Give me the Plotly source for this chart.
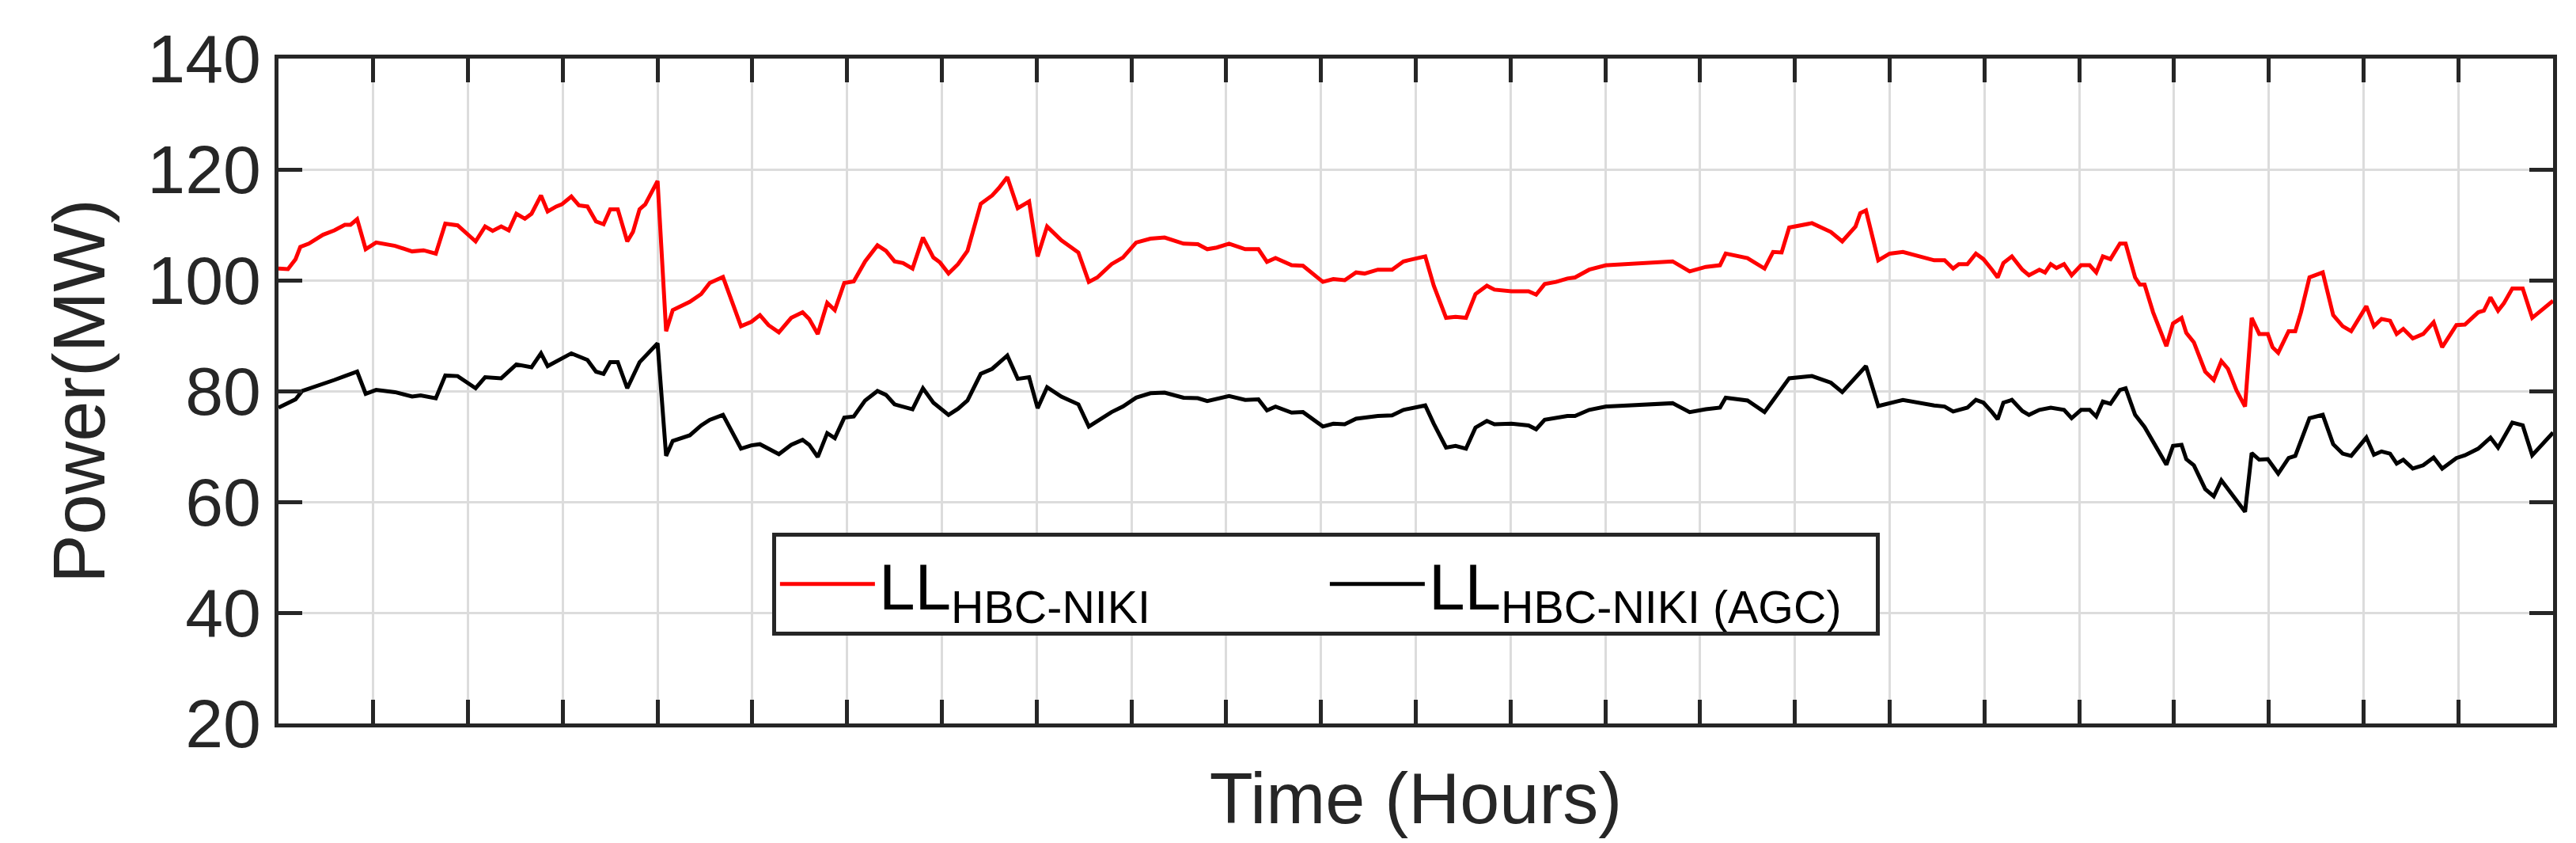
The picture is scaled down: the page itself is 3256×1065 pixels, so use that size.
import plotly.graph_objects as go

hours_red = [0,0.1,0.18,0.23,0.32,0.47,0.59,0.7,0.76,0.83,0.92,1.03,1.23,1.41,1.53,1.66,1.76,1.89,2.08,2.18,2.26,2.35,2.43,2.51,2.6,2.67,2.77,2.84,2.93,2.99,3.09,3.17,3.26,3.35,3.43,3.5,3.58,3.68,3.74,3.81,3.87,4.0,4.09,4.16,4.34,4.46,4.55,4.69,4.88,4.99,5.08,5.17,5.28,5.41,5.53,5.6,5.69,5.79,5.87,5.97,6.07,6.19,6.32,
             6.41,6.50,6.59,6.69,6.80,6.91,6.98,7.07,7.17,7.27,7.41,7.53,7.6,7.69,7.80,7.92,8.01,8.11,8.26,8.44,8.55,8.64,8.79,8.91,9.05,9.2,9.35,9.55,9.70,9.80,9.9,10.03,10.2,10.34,10.43,10.52,10.69,10.81,11.02,11.13,11.25,11.37,11.46,11.6,11.75,11.87,12.1,12.19,12.32,12.42,12.53,12.63,12.75,12.83,13.01,13.19,13.27,13.36,13.48,13.6,13.68,13.83,14.01,14.71,14.89,15.06,
             15.21,15.27,15.5,15.68,15.77,15.86,15.94,16.18,16.38,16.5,16.64,16.69,16.75,16.88,17.0,17.14,17.47,17.58,17.67,17.73,17.82,17.91,17.99,18.08,18.14,18.2,18.29,18.4,18.47,18.58,18.64,18.7,18.76,18.84,18.92,19.02,19.11,19.18,19.25,19.33,19.43,19.49,19.59,19.64,19.69,19.78,19.84,19.92,19.99,20.08,20.13,20.21,20.33,20.42,20.5,20.57,20.66,20.75,20.82,20.9,20.99,21.04,21.1,21.21,21.28,21.34,21.43,21.57,21.68,21.78,21.87,21.95,22.03,22.11,22.19,22.28,22.35,22.42,22.52,22.63,22.74,22.83,22.98,23.07,23.21,23.27,23.34,23.42,23.48,23.57,23.68,23.78,24.0]
red = [102.1,102,103.8,106,106.6,108.2,109,110,110,111,105.6,106.8,106.2,105.2,105.4,104.8,110.2,109.9,107,109.7,108.9,109.7,109,112,111.1,112,115.3,112.4,113.3,113.7,115.1,113.5,113.3,110.6,110.1,112.8,112.8,107,108.7,112.8,113.7,117.9,90.8,94.6,96.1,97.5,99.5,100.6,91.7,92.5,93.7,91.9,90.6,93.2,94.2,93,90.3,95.9,94.6,99.5,99.8,103.4,106.3,
       105.3,103.4,103.1,102.1,107.7,104.1,103.2,101.2,102.9,105.3,113.8,115.3,116.6,118.6,113,114.2,104.3,109.7,107.2,105,99.7,100.5,102.9,104.1,106.8,107.5,107.7,106.6,106.5,105.6,105.9,106.6,105.6,105.6,103.3,104,102.7,102.6,99.7,100.2,100,101.4,101.2,101.9,101.9,103.4,104.3,99,93.2,93.4,93.2,97.5,99,98.3,98,98,97.4,99.3,99.7,100.3,100.5,101.9,102.7,103.4,101.6,102.4,
       102.7,104.8,104,102.1,105.1,105,109.5,110.3,108.7,107,109.7,112.1,112.6,103.6,104.8,105.1,103.6,103.6,102.1,102.9,102.9,104.8,103.8,101.9,100.5,103.1,104.3,101.9,100.9,101.9,101.4,102.9,102.2,102.9,100.9,102.7,102.7,101.4,104.3,103.8,106.6,106.6,100.5,99.2,99.2,94.2,91.7,88.1,92.2,93.2,90.5,88.8,83.5,82,85.4,84,80.1,77.2,93.2,90.3,90.3,87.9,86.9,90.8,90.8,94.2,100.5,101.4,93.7,91.7,90.8,93.2,95.3,91.7,93,92.7,90.3,91.2,89.5,90.3,92.4,87.9,91.9,92,94.2,94.5,96.9,94.5,95.8,98.5,98.5,93.2,96.3]

hours_black = [0,0.18,0.25,0.47,0.59,0.7,0.83,0.92,1.03,1.23,1.41,1.5,1.66,1.76,1.89,2.08,2.18,2.35,2.51,2.67,2.77,2.84,3.09,3.26,3.35,3.43,3.5,3.58,3.68,3.81,4.0,4.09,4.16,4.34,4.46,4.55,4.69,4.88,4.99,5.08,5.28,5.41,5.53,5.6,5.69,5.79,5.87,5.97,6.07,6.19,6.32,
               6.41,6.50,6.69,6.80,6.91,7.07,7.17,7.27,7.41,7.53,7.69,7.80,7.92,8.01,8.11,8.26,8.44,8.55,8.79,8.91,9.05,9.2,9.35,9.55,9.70,9.80,10.03,10.2,10.34,10.43,10.52,10.69,10.81,11.02,11.13,11.25,11.37,11.6,11.75,11.87,12.1,12.19,12.32,12.42,12.53,12.63,12.75,12.83,13.01,13.19,13.27,13.36,13.6,13.68,13.83,14.01,14.71,14.89,15.06,
               15.21,15.27,15.5,15.68,15.77,15.94,16.18,16.38,16.5,16.69,16.75,16.88,17.14,17.47,17.58,17.67,17.82,17.91,17.99,18.08,18.14,18.2,18.29,18.4,18.47,18.58,18.7,18.84,18.92,19.02,19.11,19.18,19.25,19.33,19.43,19.49,19.59,19.69,19.78,19.92,19.99,20.08,20.13,20.21,20.33,20.42,20.5,20.66,20.75,20.82,20.9,20.99,21.1,21.21,21.28,21.43,21.57,21.68,21.78,21.87,22.03,22.11,22.19,22.28,22.35,22.42,22.52,22.63,22.74,22.83,22.98,23.07,23.21,23.34,23.42,23.57,23.68,23.78,24.0]
black = [77,78.5,80,81.2,82,82.7,83.5,79.5,80.2,79.8,79,79.2,78.7,82.8,82.7,80.5,82.5,82.3,84.8,84.3,86.8,84.5,86.8,85.6,83.5,83.1,85.2,85.2,80.5,85.2,88.6,68.3,71,72,73.8,74.8,75.7,69.6,70.2,70.4,68.6,70.3,71.2,70.3,68.1,72.4,71.5,75.2,75.4,78.3,80,
         79.3,77.6,76.7,80.5,77.9,75.7,76.8,78.3,83.1,84.0,86.4,82.2,82.5,76.9,80.7,79.0,77.6,73.6,76.2,77.2,78.8,79.6,79.7,78.8,78.7,78.2,79.1,78.4,78.5,76.5,77.2,76.1,76.2,73.6,74.1,74,75,75.5,75.6,76.6,77.4,74.1,69.8,70.1,69.6,73.4,74.6,74,74.1,73.8,73.1,74.8,75.5,75.5,76.6,77.2,77.8,76.2,76.7,
         77,78.8,78.3,76.2,78.4,82.3,82.7,81.5,79.8,83.3,84.5,77.3,78.4,77.4,77.2,76.3,77,78.4,77.9,76.2,74.9,77.9,78.4,76.4,75.7,76.6,77,76.6,75.1,76.6,76.6,75.4,78.1,77.7,80.2,80.5,75.7,73.5,70.9,66.7,70.1,70.3,67.7,66.6,62.3,61.0,63.9,60.4,58.2,68.8,67.6,67.7,65.1,67.9,68.3,75.1,75.7,70.4,68.7,68.3,71.6,68.5,69.1,68.7,66.9,67.6,66.0,66.6,68.0,66.0,67.9,68.4,69.6,71.6,69.8,74.3,73.8,68.4,72.5]

y_ticks = [20, 40, 60, 80, 100, 120, 140]
x_ticks = list(range(0, 25))

FONT = "Liberation Sans, Arial, sans-serif"
AX = "#262626"

fig = go.Figure()
fig.add_trace(go.Scatter(x=hours_red, y=red, mode="lines", line=dict(color="#ff0000", width=5),
                         name="LL<sub>HBC-NIKI</sub>"))
fig.add_trace(go.Scatter(x=hours_black, y=black, mode="lines", line=dict(color="#000000", width=5),
                         name="LL<sub>HBC-NIKI (AGC)</sub>"))

axcommon = dict(showline=True, linecolor=AX, linewidth=5, mirror="ticks", ticks="inside",
                ticklen=30, tickwidth=5, tickcolor=AX, showgrid=True, gridcolor="#dcdcdc",
                gridwidth=3, zeroline=False)
fig.update_xaxes(range=[0, 24], tickvals=x_ticks, showticklabels=False,
                 title=dict(text="Time (Hours)", font=dict(size=90, color=AX, family=FONT), standoff=60),
                 **axcommon)
fig.update_yaxes(range=[20, 140], tickvals=y_ticks, tickfont=dict(size=86, color=AX, family=FONT),
                 title=dict(text="Power(MW)", font=dict(size=92, color=AX, family=FONT), standoff=25),
                 **axcommon)
fig.update_layout(
    width=3256, height=1065, margin=dict(l=344, r=37, t=66, b=159),
    plot_bgcolor="white", paper_bgcolor="white", font=dict(family=FONT),
    legend=dict(orientation="h", x=0.217, y=0.287, xanchor="left", yanchor="top",
                bgcolor="white", bordercolor=AX, borderwidth=5,
                font=dict(size=82, color="black", family=FONT),
                itemwidth=120, entrywidth=560, tracegroupgap=0),
)
fig.write_html("out.html")
